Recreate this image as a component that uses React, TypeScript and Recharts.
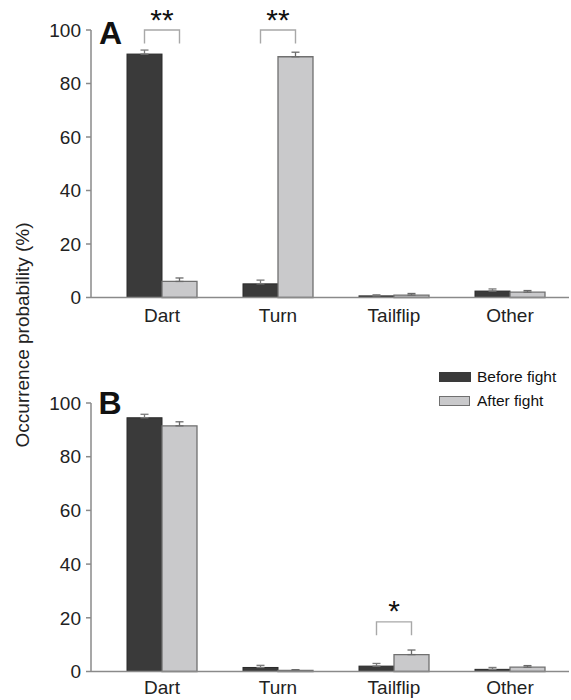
import React from "react";
import { BarChart, Bar, XAxis, YAxis, ErrorBar, Legend } from "recharts";

// behaviour categories
const categories = ["Dart", "Turn", "Tailflip", "Other"];
const yTicks = [0, 20, 40, 60, 80, 100];

// panel A
const beforeA = [91.0, 5.1, 0.6, 2.4];
const beforeErrA = [1.5, 1.4, 0.4, 0.8];
const afterA = [6.0, 90.0, 0.9, 2.0];
const afterErrA = [1.3, 1.7, 0.6, 0.6];
const sigA = ["**", "**", "", ""];
const bracketA = [100, 100, null, null];

// panel B
const beforeB = [94.5, 1.5, 2.0, 0.8];
const beforeErrB = [1.3, 0.8, 1.0, 0.7];
const afterB = [91.5, 0.4, 6.3, 1.6];
const afterErrB = [1.5, 0.3, 1.7, 0.6];
const sigB = ["", "", "*", ""];
const bracketB = [null, null, 18.5, null];

const LEG = 5; // bracket leg length, in % units
const seriesOrder = ["before", "after"];

const FONT = '"Liberation Sans", Arial, sans-serif';
const DARK = "#3a3a3a";
const DARK_EDGE = "#2a2a2a";
const LIGHT = "#c9c9cb";
const LIGHT_EDGE = "#707070";
const AXIS = "#8a8a8a";

const build = (
  before: number[],
  beforeErr: number[],
  after: number[],
  afterErr: number[],
  sig: string[],
  bracket: (number | null)[]
) =>
  categories.map((cat, i) => ({
    cat,
    before: before[i],
    beforeErr: beforeErr[i],
    after: after[i],
    afterErr: afterErr[i],
    sig: sig[i],
    bracket: bracket[i],
  }));

const dataA = build(beforeA, beforeErrA, afterA, afterErrA, sigA, bracketA);
const dataB = build(beforeB, beforeErrB, afterB, afterErrB, sigB, bracketB);

// bar + significance bracket (bracket spans before/after bar centres)
const BeforeShape = (props: any) => {
  const { x, y, width, height, payload } = props;
  const base = y + height;
  const perUnit = payload.before > 0 ? height / payload.before : 0;
  const toY = (v: number) => base - v * perUnit;
  let bracket = null;
  if (payload.sig && payload.bracket != null) {
    const x1 = x + width / 2;
    const x2 = x + width * 1.5;
    const top = toY(payload.bracket);
    const bot = toY(payload.bracket - LEG);
    bracket = (
      <g>
        <path
          d={`M${x1},${bot}L${x1},${top}L${x2},${top}L${x2},${bot}`}
          fill="none"
          stroke="#a8a8a8"
          strokeWidth={1.4}
        />
        <text
          x={(x1 + x2) / 2}
          y={top - 0.5}
          textAnchor="middle"
          fontSize={30}
          fontFamily={FONT}
          fill="#111"
        >
          {payload.sig}
        </text>
      </g>
    );
  }
  return (
    <g>
      <rect
        x={x}
        y={y}
        width={width}
        height={height}
        fill={DARK}
        stroke={DARK_EDGE}
        strokeWidth={1}
      />
      {bracket}
    </g>
  );
};

const LegendBox = (props: any) => {
  const items = [...(props.payload || [])].sort(
    (a: any, b: any) =>
      seriesOrder.indexOf(a.dataKey) - seriesOrder.indexOf(b.dataKey)
  );
  return (
    <div style={{ fontFamily: FONT, fontSize: 15.5, color: "#111" }}>
      {items.map((entry: any) => {
        const isBefore = entry.dataKey === "before";
        return (
          <div
            key={entry.value}
            style={{ display: "flex", alignItems: "center", height: 24 }}
          >
            <div
              style={{
                width: isBefore ? 32 : 29,
                height: isBefore ? 10 : 8,
                background: isBefore ? DARK : LIGHT,
                border: isBefore ? "none" : `1px solid ${LIGHT_EDGE}`,
                marginRight: isBefore ? 6 : 7,
              }}
            />
            <span>{entry.value}</span>
          </div>
        );
      })}
    </div>
  );
};

const tickStyle = { fontSize: 19, fill: "#222", fontFamily: FONT };

const Panel = ({
  data,
  top,
  height,
  margin,
  xHeight,
  labelGap,
  legend,
}: {
  data: any[];
  top: number;
  height: number;
  margin: { top: number; right: number; bottom: number; left: number };
  xHeight: number;
  labelGap: number;
  legend?: boolean;
}) => (
  <div style={{ position: "absolute", left: 0, top }}>
    <BarChart
      width={571}
      height={height}
      data={data}
      margin={margin}
      barGap={0}
      barSize={35}
    >
      <XAxis
        dataKey="cat"
        interval={0}
        height={xHeight}
        tickLine={false}
        tickSize={0}
        tickMargin={labelGap}
        padding={{ left: 13, right: 1 }}
        axisLine={{ stroke: AXIS, strokeWidth: 1.5 }}
        tick={tickStyle}
      />
      <YAxis
        width={91}
        domain={[0, 100]}
        ticks={yTicks}
        tickSize={5}
        tickMargin={5}
        axisLine={{ stroke: AXIS, strokeWidth: 1.5 }}
        tickLine={{ stroke: AXIS, strokeWidth: 1.5 }}
        tick={tickStyle}
      />
      {legend && (
        <Legend
          layout="horizontal"
          align="center"
          verticalAlign="middle"
          itemSorter={null}
          wrapperStyle={{ left: 439, top: 25, width: 130, height: 50 }}
          content={<LegendBox />}
        />
      )}
      <Bar
        dataKey="before"
        name="Before fight"
        fill={DARK}
        stroke={DARK_EDGE}
        shape={<BeforeShape />}
        isAnimationActive={false}
      >
        <ErrorBar
          dataKey={(d: any) => [0, d.beforeErr]}
          width={4}
          stroke="#7a7a7a"
          strokeWidth={1.3}
        />
      </Bar>
      <Bar
        dataKey="after"
        name="After fight"
        fill={LIGHT}
        stroke={LIGHT_EDGE}
        strokeWidth={1.3}
        isAnimationActive={false}
      >
        <ErrorBar
          dataKey={(d: any) => [0, d.afterErr]}
          width={4}
          stroke="#6a6a6a"
          strokeWidth={1.3}
        />
      </Bar>
    </BarChart>
  </div>
);

export default function App() {
  return (
    <div
      style={{
        position: "absolute",
        left: 0,
        top: 0,
        width: 571,
        height: 700,
        background: "#fff",
        fontFamily: FONT,
      }}
    >
      <Panel
        data={dataA}
        top={0}
        height={340}
        margin={{ top: 30, right: 2, bottom: 12.5, left: 0 }}
        xHeight={30}
        labelGap={11}
      />
      <Panel
        data={dataB}
        top={340}
        height={360}
        margin={{ top: 63, right: 2, bottom: 3.5, left: 0 }}
        xHeight={25}
        labelGap={9}
        legend
      />
      <svg
        width={571}
        height={700}
        style={{ position: "absolute", left: 0, top: 0, pointerEvents: "none" }}
      >
        <text x={99} y={44} fontSize={32} fontWeight="bold" fontFamily={FONT} fill="#111">
          A
        </text>
        <text x={98.5} y={414} fontSize={32} fontWeight="bold" fontFamily={FONT} fill="#111">
          B
        </text>
        <text
          transform="translate(29,335) rotate(-90)"
          textAnchor="middle"
          fontSize={19}
          fontFamily={FONT}
          fill="#222"
        >
          Occurrence probability (%)
        </text>
      </svg>
    </div>
  );
}
